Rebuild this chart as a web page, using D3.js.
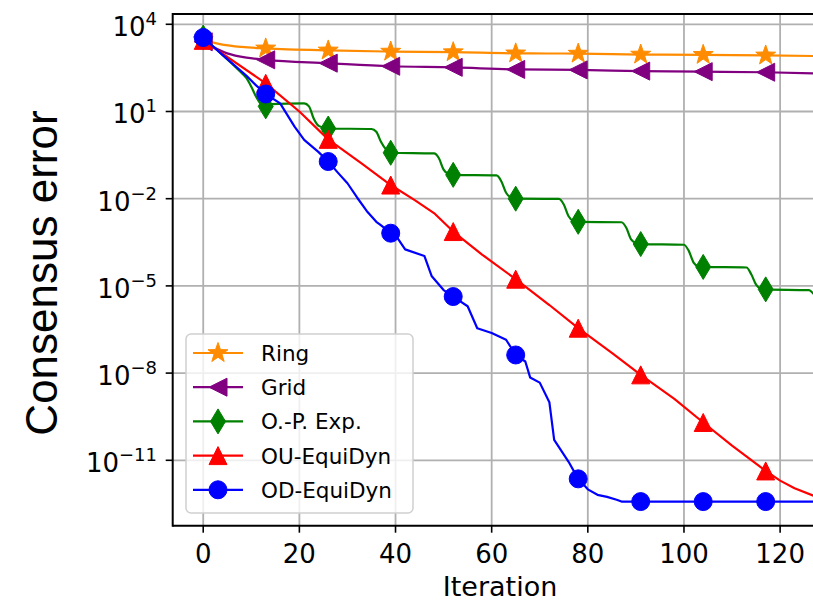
<!DOCTYPE html>
<html><head><meta charset="utf-8">
<script src="https://cdn.jsdelivr.net/npm/d3@7/dist/d3.min.js"></script>
<style>body{margin:0;background:#fff}</style>
</head><body><div id="graph"></div>
<script>
"use strict"
// [iteration, consensus error]
var ringData=[[0,2.9e3],[4,2.0e3],[8,1.66e3],[13,1.48e3],[26,1.26e3],[39,1.15e3],[52,1.10e3],[65,1.0e3],[78,9.8e2],[91,9.1e2],[104,8.9e2],[117,8.5e2],[127,8.1e2]]
var gridData=[[0,2.5e3],[5,1.0e3],[9,7.1e2],[13,6.0e2],[26,4.6e2],[39,3.6e2],[52,3.3e2],[65,2.8e2],[78,2.7e2],[91,2.45e2],[104,2.35e2],[117,2.24e2],[127,2.04e2]]
var opData=[[0,3.5e3],[4,8.9e2],[8,2.1e2],[9,1.4e2],[10,7.1e1],[11,3.2e1],[12,1.8e1],[13,1.5e1],[14,1.8e1],[21,1.9e1],[22,1.5e1],[23,5.6],[24,3.2],[26,2.6],
  [35,2.5],[36,2.0],[37,8.9e-1],[38,5.0e-1],[39,3.8e-1],[48,3.6e-1],[49,2.5e-1],[50,1.0e-1],[51,7.1e-2],[52,6.6e-2],
  [61,6.3e-2],[62,4.0e-2],[63,1.6e-2],[64,1.1e-2],[65,1.0e-2],[74,9.8e-3],[75,6.3e-3],[76,2.5e-3],[77,1.7e-3],[78,1.6e-3],
  [87,1.55e-3],[88,1.0e-3],[89,4.0e-4],[90,3.0e-4],[91,2.75e-4],[100,2.6e-4],[101,1.6e-4],[102,6.3e-5],[103,4.7e-5],[104,4.5e-5],
  [113,4.3e-5],[114,2.5e-5],[115,1.1e-5],[116,7.9e-6],[117,7.6e-6],[126,7.1e-6],[127,5.2e-6]]
var ouData=[[0,2.8e3],[13,9.3e1],[20,1.0e1],[26,1.1],[33,1.6e-1],[39,2.95e-2],[44,8.9e-3],[48,3.2e-3],[52,7.4e-4],[58,1.2e-4],[65,1.7e-5],
  [72,2.2e-6],[78,3.5e-7],[85,5.0e-8],[91,8.7e-9],[98,1.3e-9],[104,2.0e-10],[110,3.2e-11],[117,4.3e-12],[120,2.0e-12],[123,1.1e-12],[127,6.0e-13]]
var odData=[[0,3.5e3],[4,8.9e2],[9,1.7e2],[11,7.9e1],[13,4.0e1],[16,1.9e1],[19,3.0],[21,1.05],[24,4.0e-1],[26,1.9e-1],
  [28,7.9e-2],[30,3.4e-2],[32,1.1e-2],[34,3.8e-3],[36,1.6e-3],[37,1.2e-3],[39,6.5e-4],[40,5.6e-4],[42,1.8e-4],[46,1.07e-4],[47.5,2.2e-5],[50,7.2e-6],[52,4.3e-6],
  [55,2.0e-6],[57,3.5e-7],[60,2.4e-7],[63,1.4e-7],[65,4.2e-8],[67,2.5e-8],[68,7.1e-9],[70,4.7e-9],[72,1.0e-9],[73,5.0e-11],[76,8.9e-12],[78,2.3e-12],
  [80,1.0e-12],[82,6.5e-13],[84,5.5e-13],[86,4.4e-13],[87,3.8e-13],[91,3.8e-13],[104,3.8e-13],[117,3.8e-13],[127,3.8e-13]]

var seriesNames=['Ring','Grid','O.-P. Exp.','OU-EquiDyn','OD-EquiDyn']
var seriesColors=['#ff8c00','#800080','#008000','#ff0000','#0000ff']
var seriesMarkers=['star','left','thin','up','circle']
var seriesCurves=[d3.curveMonotoneX,d3.curveMonotoneX,d3.curveMonotoneX,d3.curveLinear,d3.curveLinear]
var allData=[ringData,gridData,opData,ouData,odData]
var xTicks=[0,20,40,60,80,100,120]
var yTickExps=[4,1,-2,-5,-8,-11]
var markEvery=13

// marker path around 0,0
function markerPath(kind){
  var s=9,p='',i
  if(kind=='star'){
    for(i=0;i<10;i++){
      var r=(i%2==0)?10.5:4.2
      var a=-Math.PI/2+i*Math.PI/5
      p+=(i==0?'M':'L')+(r*Math.cos(a)).toFixed(2)+','+(r*Math.sin(a)).toFixed(2)
    }
    return p+'Z'
  }
  if(kind=='left') return 'M'+(-s)+',0L'+s+','+(-s)+'L'+s+','+s+'Z'
  if(kind=='up') return 'M0,'+(-s)+'L'+s+','+s+'L'+(-s)+','+s+'Z'
  if(kind=='thin') return 'M0,-12.5L7.5,0L0,12.5L-7.5,0Z'
  return 'M'+s+',0A'+s+','+s+' 0 1,1 '+(-s)+',0A'+s+','+s+' 0 1,1 '+s+',0Z'
}

function supText(sel,e){
  sel.append('tspan').text('10')
  sel.append('tspan').attr('font-size',18).attr('dy',-11).text(String(e).replace('-','\u2212'))
}

var pLeft=172.7,pTop=14,pBottom=525.7
var x=d3.scaleLinear().domain([-6.35,133.35]).range([pLeft,844.3])
var y=d3.scaleLog().domain([Math.pow(10,-13.25),Math.pow(10,4.354)]).range([pBottom,pTop])
var pRight=x.range()[1]

var svg=d3.select('#graph').append('svg').attr('width',813).attr('height',602)
  .attr('font-family','DejaVu Sans')
svg.append('defs').append('clipPath').attr('id','plotclip')
  .append('rect').attr('x',pLeft).attr('y',pTop).attr('width',pRight-pLeft).attr('height',pBottom-pTop)

// grid
var grid=svg.append('g').attr('stroke','#b0b0b0').attr('stroke-width',1.8)
xTicks.forEach(function(t){
  grid.append('line').attr('x1',x(t)).attr('x2',x(t)).attr('y1',pTop).attr('y2',pBottom)
})
yTickExps.forEach(function(e){
  grid.append('line').attr('x1',pLeft).attr('x2',pRight).attr('y1',y(Math.pow(10,e))).attr('y2',y(Math.pow(10,e)))
})

// series
var plot=svg.append('g').attr('clip-path','url(#plotclip)')
for(var k=0;k<allData.length;k++){
  var line=d3.line().x(function(d){return x(d[0])}).y(function(d){return y(d[1])}).curve(seriesCurves[k])
  plot.append('path').attr('d',line(allData[k])).attr('fill','none')
    .attr('stroke',seriesColors[k]).attr('stroke-width',2.2).attr('stroke-linejoin','round')
  var pts=allData[k].filter(function(d){return d[0]%markEvery==0})
  plot.selectAll(null).data(pts).enter().append('path')
    .attr('d',markerPath(seriesMarkers[k]))
    .attr('transform',function(d){return 'translate('+x(d[0])+','+y(d[1])+')'})
    .attr('fill',seriesColors[k]).attr('stroke',seriesColors[k]).attr('stroke-width',1)
}

// spines
var ax=svg.append('g').attr('stroke','#000').attr('stroke-width',2)
ax.append('line').attr('x1',pLeft).attr('x2',pLeft).attr('y1',pTop-1).attr('y2',pBottom+1)
ax.append('line').attr('x1',pLeft).attr('x2',pRight).attr('y1',pBottom).attr('y2',pBottom)
ax.append('line').attr('x1',pLeft).attr('x2',pRight).attr('y1',pTop).attr('y2',pTop)

// ticks
xTicks.forEach(function(t){
  ax.append('line').attr('x1',x(t)).attr('x2',x(t)).attr('y1',pBottom).attr('y2',pBottom+7).attr('stroke-width',1.6)
  svg.append('text').attr('x',x(t)).attr('y',563).attr('text-anchor','middle').attr('font-size',26).text(t)
})
yTickExps.forEach(function(e){
  var ty=y(Math.pow(10,e))
  ax.append('line').attr('x1',pLeft-7).attr('x2',pLeft).attr('y1',ty).attr('y2',ty).attr('stroke-width',1.6)
  var t=svg.append('text').attr('x',157).attr('y',ty+12).attr('text-anchor','end').attr('font-size',26)
  supText(t,e)
})

// labels
svg.append('text').attr('x',500).attr('y',596).attr('text-anchor','middle').attr('font-size',27).text('Iteration')
svg.append('text').attr('transform','translate(57,273) rotate(-90)').attr('text-anchor','middle')
  .attr('font-family','Liberation Sans').attr('font-size',44).text('Consensus error')

// legend
var lg=svg.append('g')
lg.append('rect').attr('x',186).attr('y',334).attr('width',227).attr('height',179).attr('rx',5)
  .attr('fill','#fff').attr('fill-opacity',0.8).attr('stroke','#d0d0d0').attr('stroke-width',1.5)
for(k=0;k<seriesNames.length;k++){
  var ly=353+k*34.2
  lg.append('line').attr('x1',193).attr('x2',243).attr('y1',ly).attr('y2',ly).attr('stroke',seriesColors[k]).attr('stroke-width',2.2)
  lg.append('path').attr('d',markerPath(seriesMarkers[k])).attr('transform','translate(218,'+ly+')')
    .attr('fill',seriesColors[k]).attr('stroke',seriesColors[k]).attr('stroke-width',1)
  lg.append('text').attr('x',261).attr('y',ly+8).attr('font-size',21.5).text(seriesNames[k])
}
</script></body></html>
